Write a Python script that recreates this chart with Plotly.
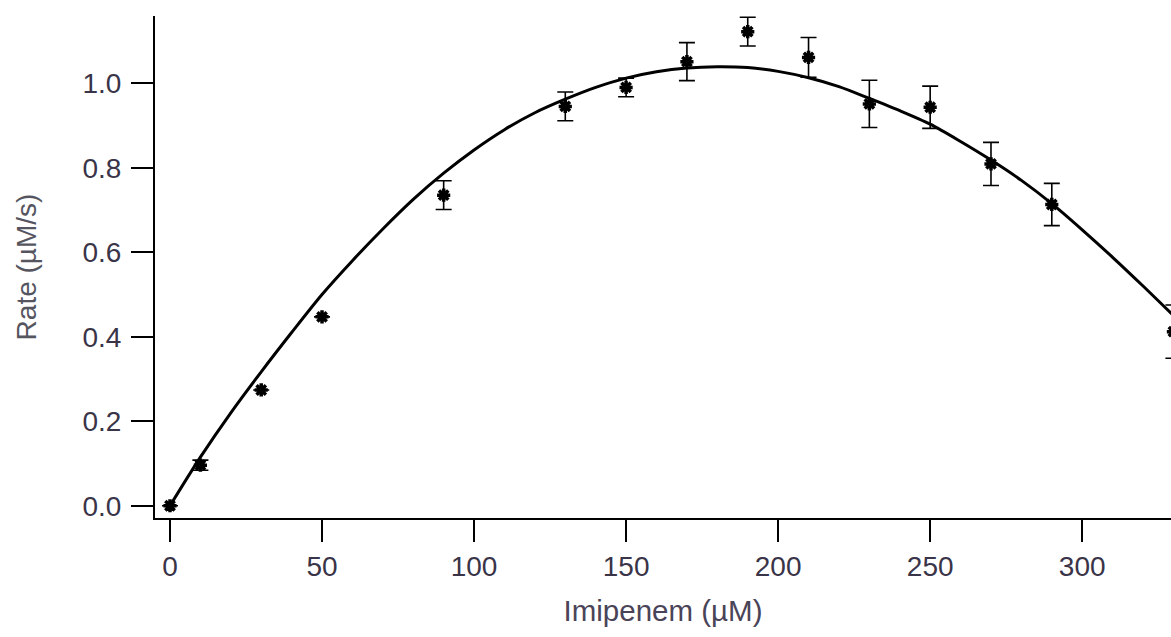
import plotly.graph_objects as go

# Measured data (Imipenem concentration in µM, rate in µM/s)
conc = [0, 10, 30, 50, 90, 130, 150, 170, 190, 210, 230, 250, 270, 290, 330]
rate = [0.0, 0.096, 0.274, 0.447, 0.735, 0.945, 0.990, 1.051, 1.122, 1.061, 0.951, 0.943, 0.809, 0.713, 0.412]
rate_err = [0.0, 0.012, 0.0, 0.0, 0.034, 0.034, 0.022, 0.045, 0.034, 0.047, 0.056, 0.050, 0.051, 0.050, 0.063]

# Fitted curve
fit_x = [0, 10, 20, 30, 40, 50, 60, 70, 80, 90, 100, 110, 120, 130, 140, 150, 160,
         170, 180, 190, 200, 210, 220, 230, 240, 250, 260, 270, 280, 290, 300, 310, 320, 330]
fit_y = [0.0, 0.115, 0.22, 0.317, 0.41, 0.50, 0.58, 0.655, 0.725, 0.787, 0.842, 0.89, 0.93,
         0.962, 0.99, 1.012, 1.027, 1.036, 1.039, 1.037, 1.028, 1.013, 0.992, 0.964, 0.935,
         0.903, 0.862, 0.818, 0.77, 0.715, 0.653, 0.588, 0.52, 0.45]

x_ticks = [0, 50, 100, 150, 200, 250, 300]
y_ticks = [0.0, 0.2, 0.4, 0.6, 0.8, 1.0]

FONT = "Liberation Sans, Arial, sans-serif"

fig = go.Figure()
fig.add_trace(go.Scatter(
    x=fit_x, y=fit_y, mode="lines",
    line=dict(color="black", width=3, shape="spline", smoothing=0.8),
    hoverinfo="skip", showlegend=False,
))
fig.add_trace(go.Scatter(
    x=conc, y=rate, mode="markers",
    marker=dict(symbol="asterisk-open", size=11, color="black",
                line=dict(color="black", width=3.5)),
    error_y=dict(type="data", array=rate_err, visible=True,
                 color="black", thickness=1.6, width=8),
    showlegend=False,
))

fig.update_layout(
    width=1171, height=637,
    margin=dict(l=155, r=0, t=16, b=119),
    paper_bgcolor="white", plot_bgcolor="white",
    font=dict(family=FONT, size=28, color="#3a3448"),
)
fig.update_xaxes(
    range=[-4.93, 329.2], tickvals=x_ticks,
    showline=True, linecolor="black", linewidth=2,
    ticks="outside", ticklen=22, tickwidth=2, tickcolor="black",
    showgrid=False, zeroline=False,
    tickfont=dict(family=FONT, size=28, color="#3a3448"),
    title=dict(text="Imipenem (µM)", standoff=20,
               font=dict(family=FONT, size=29.5, color="#4a4458")),
    automargin=False,
)
fig.update_yaxes(
    range=[-0.029, 1.159], tickvals=y_ticks, tickformat=".1f",
    showline=True, linecolor="black", linewidth=2,
    ticks="outside", ticklen=22, tickwidth=2, tickcolor="black",
    ticklabelstandoff=4,
    showgrid=False, zeroline=False,
    tickfont=dict(family=FONT, size=28, color="#3a3448"),
    title=dict(text="Rate (µM/s)", standoff=38,
               font=dict(family=FONT, size=28, color="#555560")),
    automargin=False,
)

fig.write_html(
    "out.html",
    config={"displayModeBar": False},
    post_script="document.body.style.margin='0';document.body.style.overflow='hidden';",
)
